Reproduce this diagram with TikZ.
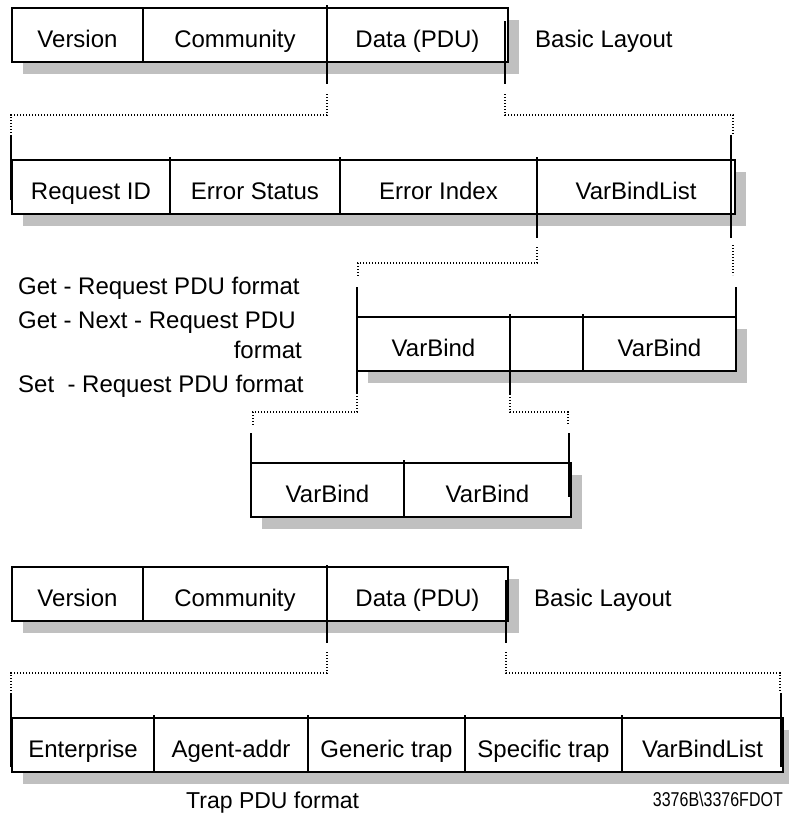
\documentclass[tikz,border=0pt]{standalone}
\usepackage{fontspec}
\setmainfont{Liberation Sans}
\usetikzlibrary{shadows}
\definecolor{shadegray}{RGB}{192,192,192}
\begin{document}
\begin{tikzpicture}[x=1pt,y=-1pt,
  cell/.style={draw,fill=white,line width=1.6pt,anchor=north west,inner sep=0pt,outer sep=0pt,
    minimum height=54pt,text height=24pt,text depth=0pt,font=\fontsize{24}{28}\selectfont,
    drop shadow={shadow xshift=11pt,shadow yshift=-12pt,fill=shadegray,opacity=1}},
  note/.style={inner sep=0pt,font=\fontsize{24}{28}\selectfont},
  edge/.style={line width=1.5pt},
  link/.style={line width=1.3pt,dash pattern=on 1.3pt off 1.7pt}]
\path[use as bounding box] (0,0) rectangle (789,814);
% basic layout
\node[cell,minimum width=131pt] (ver1) at (12,8) {Version};
\node[cell,minimum width=184pt] (com1) at (143,8) {Community};
\node[cell,minimum width=181pt] (dat1) at (327,8) {Data (PDU)};
\node[note,anchor=base west] (lay1) at (535,47) {Basic Layout};
% request pdu
\node[cell,minimum width=158pt] (req) at (12,160) {Request ID};
\node[cell,minimum width=170pt] (err) at (170,160) {Error Status};
\node[cell,minimum width=197pt] (idx) at (340,160) {Error Index};
\node[cell,minimum width=198pt] (vbl) at (537,160) {VarBindList};
\draw[edge] ([yshift=3]err.north west) -- (err.south west);
\draw[edge] ([yshift=3]idx.north west) -- (idx.south west);
% varbind list
\node[cell,minimum width=153pt] (vb1) at (357,317) {VarBind};
\node[cell,minimum width=73pt] (gap) at (510,317) {};
\node[cell,minimum width=153pt] (vb2) at (583,317) {VarBind};
\draw[edge] ([yshift=3]vb2.north west) -- (vb2.south west);
% varbind
\node[cell,minimum width=153pt] (vb3) at (251,463) {VarBind};
\node[cell,minimum width=167pt] (vb4) at (404,463) {VarBind};
\draw[edge] ([yshift=3]vb4.north west) -- (vb4.south west);
% pdu names
\node[note,anchor=base west] (gettxt) at (18,294) {Get - Request PDU format};
\node[note,anchor=base west] (nexttxt) at (18,328) {Get - Next - Request PDU};
\node[note,anchor=base east] (fmttxt) at (302,358) {format};
\node[note,anchor=base west] (settxt) at (18,392) {Set\ \ - Request PDU format};
% basic layout, trap
\node[cell,minimum width=131pt] (ver2) at (12,567) {Version};
\node[cell,minimum width=184pt] (com2) at (143,567) {Community};
\node[cell,minimum width=181pt] (dat2) at (327,567) {Data (PDU)};
\node[note,anchor=base west] (lay2) at (534,606) {Basic Layout};
% trap pdu
\node[cell,minimum width=142pt] (ent) at (12,718) {Enterprise};
\node[cell,minimum width=154pt] (agt) at (154,718) {Agent-addr};
\node[cell,minimum width=157pt] (gen) at (308,718) {Generic trap};
\node[cell,minimum width=157pt] (spc) at (465,718) {Specific trap};
\node[cell,minimum width=161pt] (vbl2) at (622,718) {VarBindList};
\draw[edge] ([yshift=3]agt.north west) -- (agt.south west);
\draw[edge] ([yshift=3]gen.north west) -- (gen.south west);
\draw[edge] ([yshift=3]spc.north west) -- (spc.south west);
\draw[edge] ([yshift=3]vbl2.north west) -- (vbl2.south west);
\node[note,anchor=base west,font=\fontsize{23}{28}\selectfont] (traptxt) at (186,808) {Trap PDU format};
\node[note,anchor=base east,font=\fontsize{20}{24}\selectfont] (figid) at (783,806) {\scalebox{0.8}[1]{3376B\textbackslash 3376FDOT}};
% data -> request pdu
\draw[edge] ([yshift=3]dat1.north west) -- ([yshift=-22]dat1.south west);
\draw[link] ([yshift=-32]dat1.south west) |- ([xshift=-1,yshift=45]req.north west) -- ([xshift=-1,yshift=25]req.north west);
\draw[edge] ([xshift=-1,yshift=25]req.north west) -- ([xshift=-1,yshift=14]req.south west);
\draw[edge] ([xshift=-3,yshift=-13]dat1.north east) -- ([xshift=-3,yshift=-22]dat1.south east);
\draw[link] ([xshift=-3,yshift=-32]dat1.south east) |- ([xshift=-2,yshift=45]vbl.north east) -- ([xshift=-2,yshift=25]vbl.north east);
\draw[edge] ([xshift=-4,yshift=25]vbl.north east) -- ([xshift=-4,yshift=-24]vbl.south east);
% varbindlist -> varbinds
\draw[edge] ([yshift=3]vbl.north west) -- ([yshift=-24]vbl.south west);
\draw[link] ([yshift=-33]vbl.south west) |- ([xshift=1,yshift=54]vb1.north west) -- ([xshift=1,yshift=40]vb1.north west);
\draw[edge] ([yshift=30]vb1.north west) -- ([yshift=-22]vb1.south west);
\draw[link] ([xshift=-2,yshift=-31]vbl.south east) -- ([xshift=-3,yshift=42]vb2.north east);
\draw[edge] ([yshift=30]vb2.north east) -- (vb2.south east);
% varbind -> pair
\draw[link] ([yshift=-22]vb1.south west) |- ([xshift=2,yshift=51]vb3.north west) -- ([xshift=2,yshift=38]vb3.north west);
\draw[edge] ([yshift=30]vb3.north west) -- ([yshift=15]vb3.south west);
\draw[edge] ([yshift=3]gap.north west) -- ([yshift=-23]gap.south west);
\draw[link] ([yshift=-23]gap.south west) |- ([xshift=-3,yshift=51]vb4.north east) -- ([xshift=-3,yshift=38]vb4.north east);
\draw[edge] ([xshift=-2,yshift=30]vb4.north east) -- ([xshift=-2,yshift=20]vb4.south east);
% data -> trap pdu
\draw[edge] ([yshift=2]dat2.north west) -- ([yshift=-22]dat2.south west);
\draw[link] ([yshift=-31]dat2.south west) |- ([xshift=-1,yshift=45]ent.north west) -- ([xshift=-1,yshift=26]ent.north west);
\draw[edge] ([xshift=-1,yshift=25]ent.north west) -- ([xshift=-1,yshift=5]ent.south west);
\draw[edge] ([xshift=-2,yshift=-13]dat2.north east) -- ([xshift=-2,yshift=-22]dat2.south east);
\draw[link] ([xshift=-2,yshift=-31]dat2.south east) |- ([xshift=-3,yshift=45]vbl2.north east) -- ([xshift=-3,yshift=26]vbl2.north east);
\draw[edge] ([xshift=-2,yshift=25]vbl2.north east) -- ([xshift=-2,yshift=5]vbl2.south east);
\end{tikzpicture}
\end{document}
